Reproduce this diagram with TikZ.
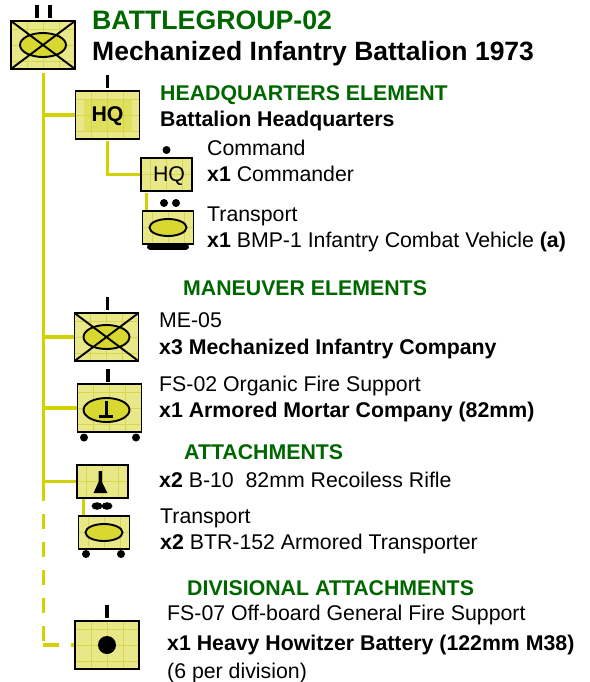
\documentclass[tikz,border=0pt]{standalone}
\usepackage{fontspec}
\setmainfont{Liberation Sans}
\usetikzlibrary{shapes.geometric,calc}
\definecolor{lnk}{HTML}{D2D200}
\definecolor{boxfill}{HTML}{E8E888}
\definecolor{boxgrid}{HTML}{D6D650}
\definecolor{symfill}{HTML}{D8D830}
\definecolor{hdr}{HTML}{006600}
\tikzset{
 unit/.style={draw=black,line width=1.9pt,fill=boxfill,inner sep=0pt,outer sep=0pt,
  path picture={\draw[boxgrid,line width=0.9pt,step=16pt] (path picture bounding box.south west) grid (path picture bounding box.north east);}},
 bigbox/.style={unit,minimum width=64pt,minimum height=48pt},
 smallbox/.style={unit,minimum width=51pt,minimum height=33pt},
 link/.style={lnk,line width=3.7pt},
 tick/.style={black,line width=3.2pt},
 sym/.style={draw=black,line width=1.9pt},
 oval/.style={ellipse,draw=black,line width=1.9pt,fill=symfill,inner sep=0pt,outer sep=0pt},
 bigoval/.style={oval,minimum width=46pt,minimum height=24pt},
 smalloval/.style={oval,minimum width=37pt,minimum height=17pt},
 dot/.style={circle,fill=black,inner sep=0pt,minimum size=8pt},
 flatdot/.style={ellipse,fill=black,inner sep=0pt,minimum width=11pt,minimum height=7.5pt},
 txt/.style={anchor=base west,inner sep=0pt,font=\fontsize{21.3}{25}\selectfont},
 txtb/.style={txt,font=\fontsize{21.3}{25}\selectfont\bfseries},
 head/.style={txtb,text=hdr},
}
\begin{document}
\begin{tikzpicture}[x=1pt,y=-1pt]
\useasboundingbox (0,0) rectangle (589,682);
% units
\node[bigbox] (top) at (43,45) {};
\node[bigbox] (hqbig) at (107.5,115) {};
\node[smallbox] (hqsmall) at (166.5,174.5) {};
\node[smallbox] (bmp) at (168,227.5) {};
\node[bigbox] (me) at (106.5,337) {};
\node[bigbox] (mortar) at (109.5,408) {};
\node[smallbox] (rr) at (102.5,481.5) {};
\node[smallbox] (btr) at (104,532.5) {};
\node[bigbox] (how) at (107,645) {};
% connectors
\coordinate (trunktop) at (43.5,73);
\coordinate (trunkend) at (43.5,500.5);
\coordinate (dashend) at (43.5,641);
\coordinate (corner) at (43,645);
\draw[link] (trunktop) -- (trunkend);
\draw[link,dash pattern=on 15pt off 13pt,dash phase=15pt] (trunkend) -- (dashend);
\draw[link,dash pattern=on 16pt off 12pt] (corner) -- (how.west);
\draw[link] (hqbig.west) -- (hqbig.west -| trunktop);
\draw[link] (me.west) -- (me.west -| trunktop);
\draw[link] (mortar.west) -- (mortar.west -| trunktop);
\draw[link] (rr.west) -- (rr.west -| trunktop);
\draw[link] ([yshift=-2pt]hqbig.south) |- (hqsmall.west);
\coordinate (bmpstem) at (146.5,193);
\draw[link] (bmpstem) -- (bmpstem |- bmp.north);
\coordinate (btrstem) at (83.5,499);
\draw[link] (btrstem) -- (btrstem |- btr.north);
% redraw box outlines over link ends
\foreach \n in {top,hqbig,hqsmall,bmp,me,mortar,rr,btr,how}
  \draw[black,line width=1.9pt] (\n.north west) rectangle (\n.south east);
% ticks
\draw[tick] (37,5) -- (37,18);
\draw[tick] (50,5) -- (50,18);
\draw[tick] (107.5,75) -- (107.5,88);
\draw[tick] (107.5,297) -- (107.5,310);
\draw[tick] (108,369) -- (108,382);
\draw[tick] (107,605) -- (107,618);
% symbols
\node[bigoval] (topoval) at (top.center) {};
\draw[sym] (top.north west) -- (top.south east) (top.north east) -- (top.south west);
\fill[symfill,opacity=.45] (84,100) rectangle (132,131);
\node[anchor=center,inner sep=0pt,font=\fontsize{21.3}{25}\selectfont\bfseries] (hqbigt) at (107.5,116) {HQ};
\node[anchor=center,inner sep=0pt,font=\fontsize{21.3}{25}\selectfont] (hqsmallt) at (169,176) {HQ};
\node[dot] (d1) at (166.5,150) {};
\node[dot] (d2) at (164,203) {};
\node[dot] (d3) at (176,203) {};
\node[smalloval] (bmpoval) at (bmp.center) {};
\draw[black,line width=6pt,line cap=round] (150,246.5) -- (186,246.5);
\node[bigoval] (meoval) at (me.center) {};
\draw[sym] (me.north west) -- (me.south east) (me.north east) -- (me.south west);
\node[bigoval] (moroval) at (106.5,410) {};
\draw[black,line width=3.2pt] (106.5,401) -- (106.5,416);
\draw[black,line width=3.4pt] (99,416.5) -- (113,416.5);
\node[dot] (d4) at (84,437.5) {};
\node[dot] (d5) at (136,437.5) {};
\fill[black] (98.5,471) -- (102,471) -- (102,482) -- (107.5,493) -- (93.5,493) -- (98.5,482) -- cycle;
\node[flatdot] (d6) at (97,506) {};
\node[flatdot] (d7) at (107,506) {};
\node[smalloval] (btroval) at (btr.center) {};
\node[dot] (d8) at (86,554) {};
\node[dot] (d9) at (121,554) {};
\node[circle,fill=black,inner sep=0pt,minimum size=18pt] (howdot) at (how.center) {};
% text
\node[head,font=\fontsize{26.7}{31}\selectfont\bfseries] (t1) at (92,30) {BATTLEGROUP-02};
\node[txtb,font=\fontsize{26.5}{31}\selectfont\bfseries] (t2) at (92,61) {Mechanized Infantry Battalion 1973};
\node[head] (t3) at (160,101) {HEADQUARTERS ELEMENT};
\node[txtb] (t4) at (160,126.5) {Battalion Headquarters};
\node[txt] (t5) at (207,155) {Command};
\node[txt] (t6) at (207,181) {\textbf{x1} Commander};
\node[txt] (t7) at (207,221) {Transport};
\node[txt] (t8) at (207,247) {\textbf{x1} BMP-1 Infantry Combat Vehicle \textbf{(a)}};
\node[head] (t9) at (183,295) {MANEUVER ELEMENTS};
\node[txt] (t10) at (159,327) {ME-05};
\node[txtb] (t11) at (159,354) {x3 Mechanized Infantry Company};
\node[txt] (t12) at (159,391) {FS-02 Organic Fire Support};
\node[txtb] (t13) at (159,417) {x1 Armored Mortar Company (82mm)};
\node[head] (t14) at (184,459) {ATTACHMENTS};
\node[txt] (t15) at (159,487) {\textbf{x2} B-10\ \ 82mm Recoiless Rifle};
\node[txt] (t16) at (160,523) {Transport};
\node[txt] (t17) at (160,549.5) {\textbf{x2} BTR-152 Armored Transporter};
\node[head] (t18) at (187,595) {DIVISIONAL ATTACHMENTS};
\node[txt] (t19) at (167,620) {FS-07 Off-board General Fire Support};
\node[txtb] (t20) at (167,650) {x1 Heavy Howitzer Battery (122mm M38)};
\node[txt] (t21) at (167,678) {(6 per division)};
\end{tikzpicture}
\end{document}
